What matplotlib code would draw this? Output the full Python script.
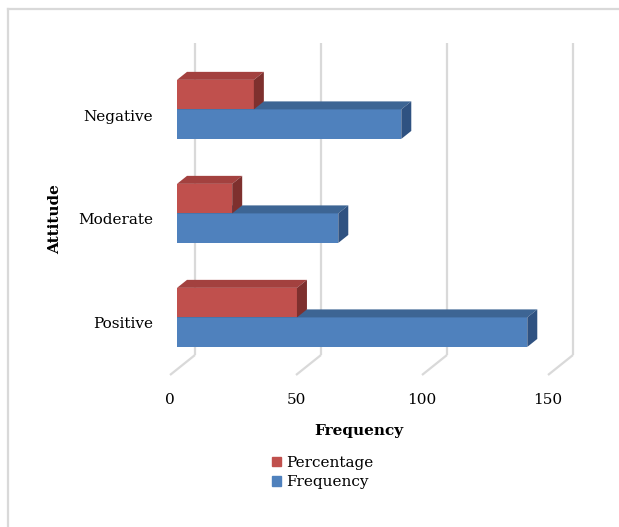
import matplotlib
matplotlib.use('Agg')
import matplotlib.pyplot as plt
from matplotlib.transforms import ScaledTranslation
from matplotlib.patches import Polygon, Patch
from matplotlib.lines import Line2D

categories = ['Positive', 'Moderate', 'Negative']
frequency = [139, 64, 89]
percentage = [47.6, 21.9, 30.5]
x_ticks = [0, 50, 100, 150]

plt.rcParams['font.family'] = ['DejaVu Serif']

W, H = 619, 527
fig = plt.figure(figsize=(W / 100, H / 100), dpi=100)
ax = fig.add_axes([170 / W, 152 / H, 378 / W, 312 / H])
ax.set_xlim(0, 150)
ax.set_ylim(-0.5, 2.5)
for s in ax.spines.values():
    s.set_visible(False)
ax.set_facecolor('none')

# pixel scale of the data plane
p0 = ax.transData.transform((0, 0))
p1 = ax.transData.transform((1, 1))
ppx, ppy = p1[0] - p0[0], p1[1] - p0[1]


def shift(dx, dy):
    return ax.transData + ScaledTranslation(dx / fig.dpi, dy / fig.dpi, fig.dpi_scale_trans)


grid_c = '#d9d9d9'
wall_dx, wall_dy = 25, 20
for v in x_ticks:
    # back wall gridline
    ax.plot([v, v], [-0.5, 2.5], color=grid_c, lw=1.6, transform=shift(wall_dx, wall_dy),
            clip_on=False, zorder=0, solid_capstyle='butt')
    # floor line
    ax.plot([v, v + wall_dx / ppx], [-0.5, -0.5 + wall_dy / ppy], color=grid_c, lw=1.6,
            clip_on=False, zorder=0, solid_capstyle='butt')

bar_tf = shift(7, 5.6)
h = 0.284
ddx, ddy = 10 / ppx, 8 / ppy

blue = ('#4F81BD', '#3D6594', '#2F5281')
red = ('#C0504D', '#A3413F', '#7E302E')


def draw_bars(values, ys, cols, z):
    bars = ax.barh(ys, values, height=h, color=cols[0], zorder=z, clip_on=False)
    for b in bars:
        b.set_transform(bar_tf)
        x0, y0 = b.get_x(), b.get_y()
        w, hh = b.get_width(), b.get_height()
        top = Polygon([(x0, y0 + hh), (x0 + w, y0 + hh), (x0 + w + ddx, y0 + hh + ddy),
                       (x0 + ddx, y0 + hh + ddy)], closed=True, facecolor=cols[1],
                      edgecolor='none', transform=bar_tf, zorder=z, clip_on=False)
        side = Polygon([(x0 + w, y0), (x0 + w + ddx, y0 + ddy), (x0 + w + ddx, y0 + hh + ddy),
                        (x0 + w, y0 + hh)], closed=True, facecolor=cols[2],
                       edgecolor='none', transform=bar_tf, zorder=z, clip_on=False)
        ax.add_patch(top)
        ax.add_patch(side)
    return bars


ypos = list(range(len(categories)))
draw_bars(frequency, [y - h / 2 for y in ypos], blue, 2)
draw_bars(percentage, [y + h / 2 for y in ypos], red, 3)
ax.set_xlim(0, 150)
ax.set_ylim(-0.5, 2.5)

ax.set_xticks(x_ticks)
ax.set_yticks(ypos, categories)
ax.tick_params(axis='both', length=0, labelsize=11, colors='#000000')
ax.tick_params(axis='x', pad=13)
ax.tick_params(axis='y', pad=12)
ax.set_xlabel('Frequency', fontsize=11, fontweight='bold', labelpad=12)
ax.set_ylabel('Attitude', fontsize=11, fontweight='bold', labelpad=12)

handles = [Patch(color=red[0], label='Percentage'), Patch(color=blue[0], label='Frequency')]
fig.legend(handles=handles, loc='center', bbox_to_anchor=(323 / W, 1 - 472.5 / H),
           frameon=False, fontsize=11, handlelength=0.6, handleheight=0.6,
           handletextpad=0.35, labelspacing=0.35, borderpad=0)

# outer border (top and left visible)
fig.add_artist(Line2D([8 / W, 1], [1 - 9 / H, 1 - 9 / H], color=grid_c, lw=1.6,
                      transform=fig.transFigure))
fig.add_artist(Line2D([8 / W, 8 / W], [0, 1 - 9 / H], color=grid_c, lw=1.6,
                      transform=fig.transFigure))

fig.savefig('out.png', dpi=100)
